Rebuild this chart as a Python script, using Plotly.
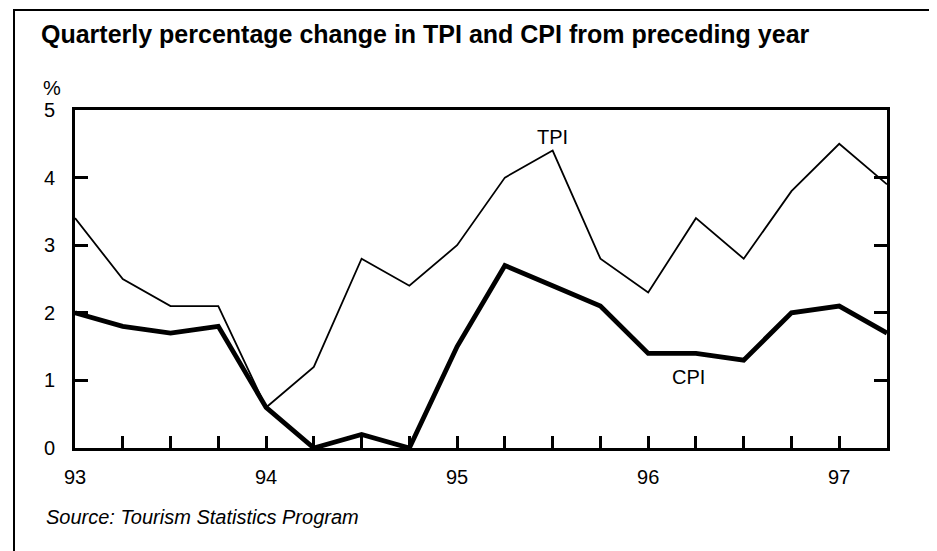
import plotly.graph_objects as go

quarters = [93.0, 93.25, 93.5, 93.75, 94.0, 94.25, 94.5, 94.75, 95.0, 95.25,
            95.5, 95.75, 96.0, 96.25, 96.5, 96.75, 97.0, 97.25]
tpi = [3.4, 2.5, 2.1, 2.1, 0.6, 1.2, 2.8, 2.4, 3.0, 4.0,
       4.4, 2.8, 2.3, 3.4, 2.8, 3.8, 4.5, 3.9]
cpi = [2.0, 1.8, 1.7, 1.8, 0.6, 0.0, 0.2, 0.0, 1.5, 2.7,
       2.4, 2.1, 1.4, 1.4, 1.3, 2.0, 2.1, 1.7]
x_tickvals = [93, 94, 95, 96, 97]
x_ticktext = ["93", "94", "95", "96", "97"]
y_tickvals = [0, 1, 2, 3, 4, 5]

W, H = 929, 543
L, R, T, B = 67, 50, 102, 103
pw, ph = W - L - R, H - T - B

def px_x(p):
    return (p - L) / pw

def px_y(p):
    return (H - B - p) / ph

FONT = "Liberation Sans, Arial, sans-serif"

fig = go.Figure()
fig.add_trace(go.Scatter(x=quarters, y=tpi, mode="lines",
                         line=dict(color="black", width=1.8), name="TPI"))
fig.add_trace(go.Scatter(x=quarters, y=cpi, mode="lines",
                         line=dict(color="black", width=4.8), name="CPI"))

fig.update_layout(
    width=W, height=H,
    margin=dict(l=L, r=R, t=T, b=B),
    paper_bgcolor="white", plot_bgcolor="white",
    showlegend=False,
    font=dict(family=FONT, color="black", size=20),
    xaxis=dict(range=[93, 97.25], tickvals=x_tickvals, ticktext=x_ticktext,
               ticks="inside", ticklen=12, tickwidth=2.5, tickcolor="black",
               minor=dict(dtick=0.25, tick0=93, ticks="inside", ticklen=12,
                          tickwidth=2.5, tickcolor="black"),
               showline=True, linewidth=3, linecolor="black", mirror=True,
               showgrid=False, zeroline=False, ticklabelstandoff=9,
               tickfont=dict(size=20)),
    yaxis=dict(range=[0, 5], tickvals=y_tickvals,
               ticks="inside", ticklen=13, tickwidth=2.5, tickcolor="black",
               showline=True, linewidth=3, linecolor="black", mirror="ticks",
               showgrid=False, zeroline=False, ticklabelstandoff=13,
               tickfont=dict(size=20)),
)

fig.add_shape(type="rect", xref="paper", yref="paper",
              x0=px_x(6), x1=px_x(925), y0=px_y(600), y1=px_y(2),
              line=dict(color="black", width=2), layer="above")

fig.add_annotation(text="<b>Quarterly percentage change in TPI and CPI from preceding year</b>",
                   xref="paper", yref="paper", x=px_x(31), y=px_y(26),
                   xanchor="left", yanchor="middle", showarrow=False,
                   font=dict(size=25, family=FONT))
fig.add_annotation(text="%", xref="paper", yref="paper", x=px_x(44), y=px_y(80),
                   xanchor="center", yanchor="middle", showarrow=False,
                   font=dict(size=20))
fig.add_annotation(text="<i>Source: Tourism Statistics Program</i>",
                   xref="paper", yref="paper", x=px_x(36), y=px_y(509),
                   xanchor="left", yanchor="middle", showarrow=False,
                   font=dict(size=20))
fig.add_annotation(text="TPI", x=95.5, y=4.6, xref="x", yref="y",
                   showarrow=False, font=dict(size=20))
fig.add_annotation(text="CPI", x=96.21, y=1.05, xref="x", yref="y",
                   showarrow=False, font=dict(size=20))

fig.write_html("out.html")
